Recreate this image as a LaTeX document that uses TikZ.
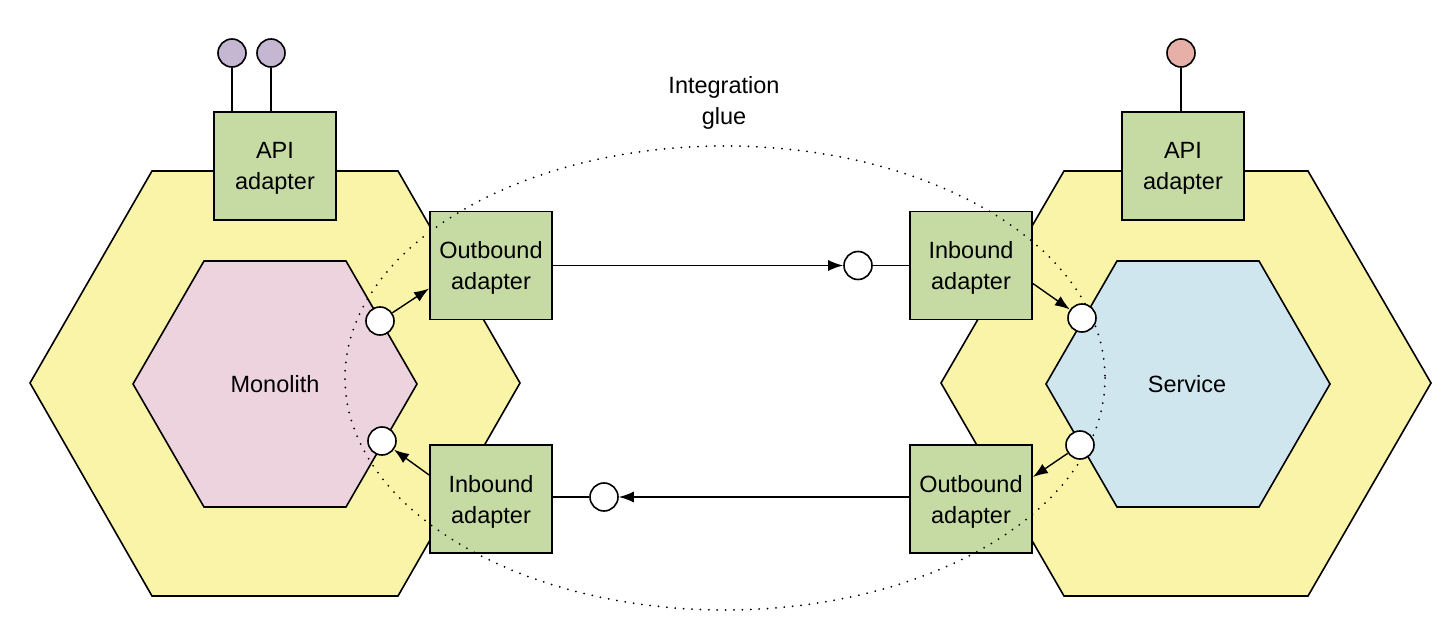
\documentclass[tikz,border=0pt]{standalone}
\usepackage{fontspec}
\setmainfont{Liberation Sans}
\usetikzlibrary{arrows.meta}
\definecolor{hexyellow}{HTML}{FAF4A8}
\definecolor{monopink}{HTML}{EDD3DD}
\definecolor{servblue}{HTML}{D0E6EF}
\definecolor{adaptgreen}{HTML}{C6DBA4}
\definecolor{apipurple}{HTML}{C5B6D1}
\definecolor{apired}{HTML}{E6B0A9}
\tikzset{
  txt/.style={font=\fontsize{11.75}{15.5}\selectfont, align=center, inner sep=0pt},
  adapter/.style={txt, draw, fill=adaptgreen, line width=0.9pt, minimum width=61pt, minimum height=54pt, text depth=0pt},
  port/.style={circle, draw, fill=white, minimum size=14pt, inner sep=0pt, line width=0.8pt},
  apiport/.style={port, minimum size=14pt},
  hexa/.style={draw, line width=0.8pt},
  link/.style={line width=0.7pt},
  flow/.style={link, -{Latex[length=7.5pt,width=5.5pt]}},
  glue/.style={line width=1pt, line cap=round, dash pattern=on 0pt off 4.2pt},
}
\begin{document}
\begin{tikzpicture}[x=0.5pt,y=-0.5pt]
\useasboundingbox (0,0) rectangle (1452,620);
% outer hexagons
\draw[hexa, fill=hexyellow] (30,383) -- (152,171) -- (398,171) -- (520,383) -- (398,596) -- (152,596) -- cycle;
\draw[hexa, fill=hexyellow] (941,383) -- (1064,171) -- (1308,171) -- (1431,383) -- (1308,596) -- (1064,596) -- cycle;
% inner hexagons
\draw[hexa, fill=monopink] (133,384) -- (204,261) -- (346,261) -- (417,384) -- (346,507) -- (204,507) -- cycle;
\draw[hexa, fill=servblue] (1046,384) -- (1117,261) -- (1259,261) -- (1330,384) -- (1259,507) -- (1117,507) -- cycle;
\node[txt] (mono) at (275,384) {Monolith};
\node[txt] (serv) at (1187,384) {Service};
% adapters
\node[adapter] (apiL) at (275,166) {API\\adapter};
\node[adapter] (apiR) at (1183,166) {API\\adapter};
\node[adapter] (outL) at (491,265.5) {Outbound\\adapter};
\node[adapter] (inL) at (491,499) {Inbound\\adapter};
\node[adapter] (inR) at (971,265.5) {Inbound\\adapter};
\node[adapter] (outR) at (971,499) {Outbound\\adapter};
% integration glue
\node[txt] (gluelabel) at (724,103) {Integration\\glue};
\draw[glue] (725,378) ellipse [x radius=380, y radius=232];
% API ports
\node[apiport, fill=apipurple] (pL1) at (232,53) {};
\node[apiport, fill=apipurple] (pL2) at (271,53) {};
\node[apiport, fill=apired] (pR) at (1181,53) {};
\draw[link] (pL1) -- (pL1 |- apiL.north);
\draw[link] (pL2) -- (pL2 |- apiL.north);
\draw[link] (pR) -- (pR |- apiR.north);
% ports
\node[port] (mo) at (380,321) {};
\node[port] (mi) at (382,441) {};
\node[port] (si) at (1082,318) {};
\node[port] (so) at (1080,445) {};
\node[port] (g1) at (858,265.5) {};
\node[port] (g2) at (604,497) {};
% connectors
\draw[flow] (mo) -- ([yshift=-11.5pt]outL.west);
\draw[flow] ([yshift=12pt]inL.west) -- (mi);
\draw[flow] (outL.east) -- (g1);
\draw[link] (g1) -- (inR.west);
\draw[flow] ([yshift=-9pt]inR.east) -- (si);
\draw[flow] (so) -- ([yshift=11pt]outR.east);
\draw[flow] (outR.west |- g2) -- (g2);
\draw[link] (g2) -- (g2 -| inL.east);
\end{tikzpicture}
\end{document}
